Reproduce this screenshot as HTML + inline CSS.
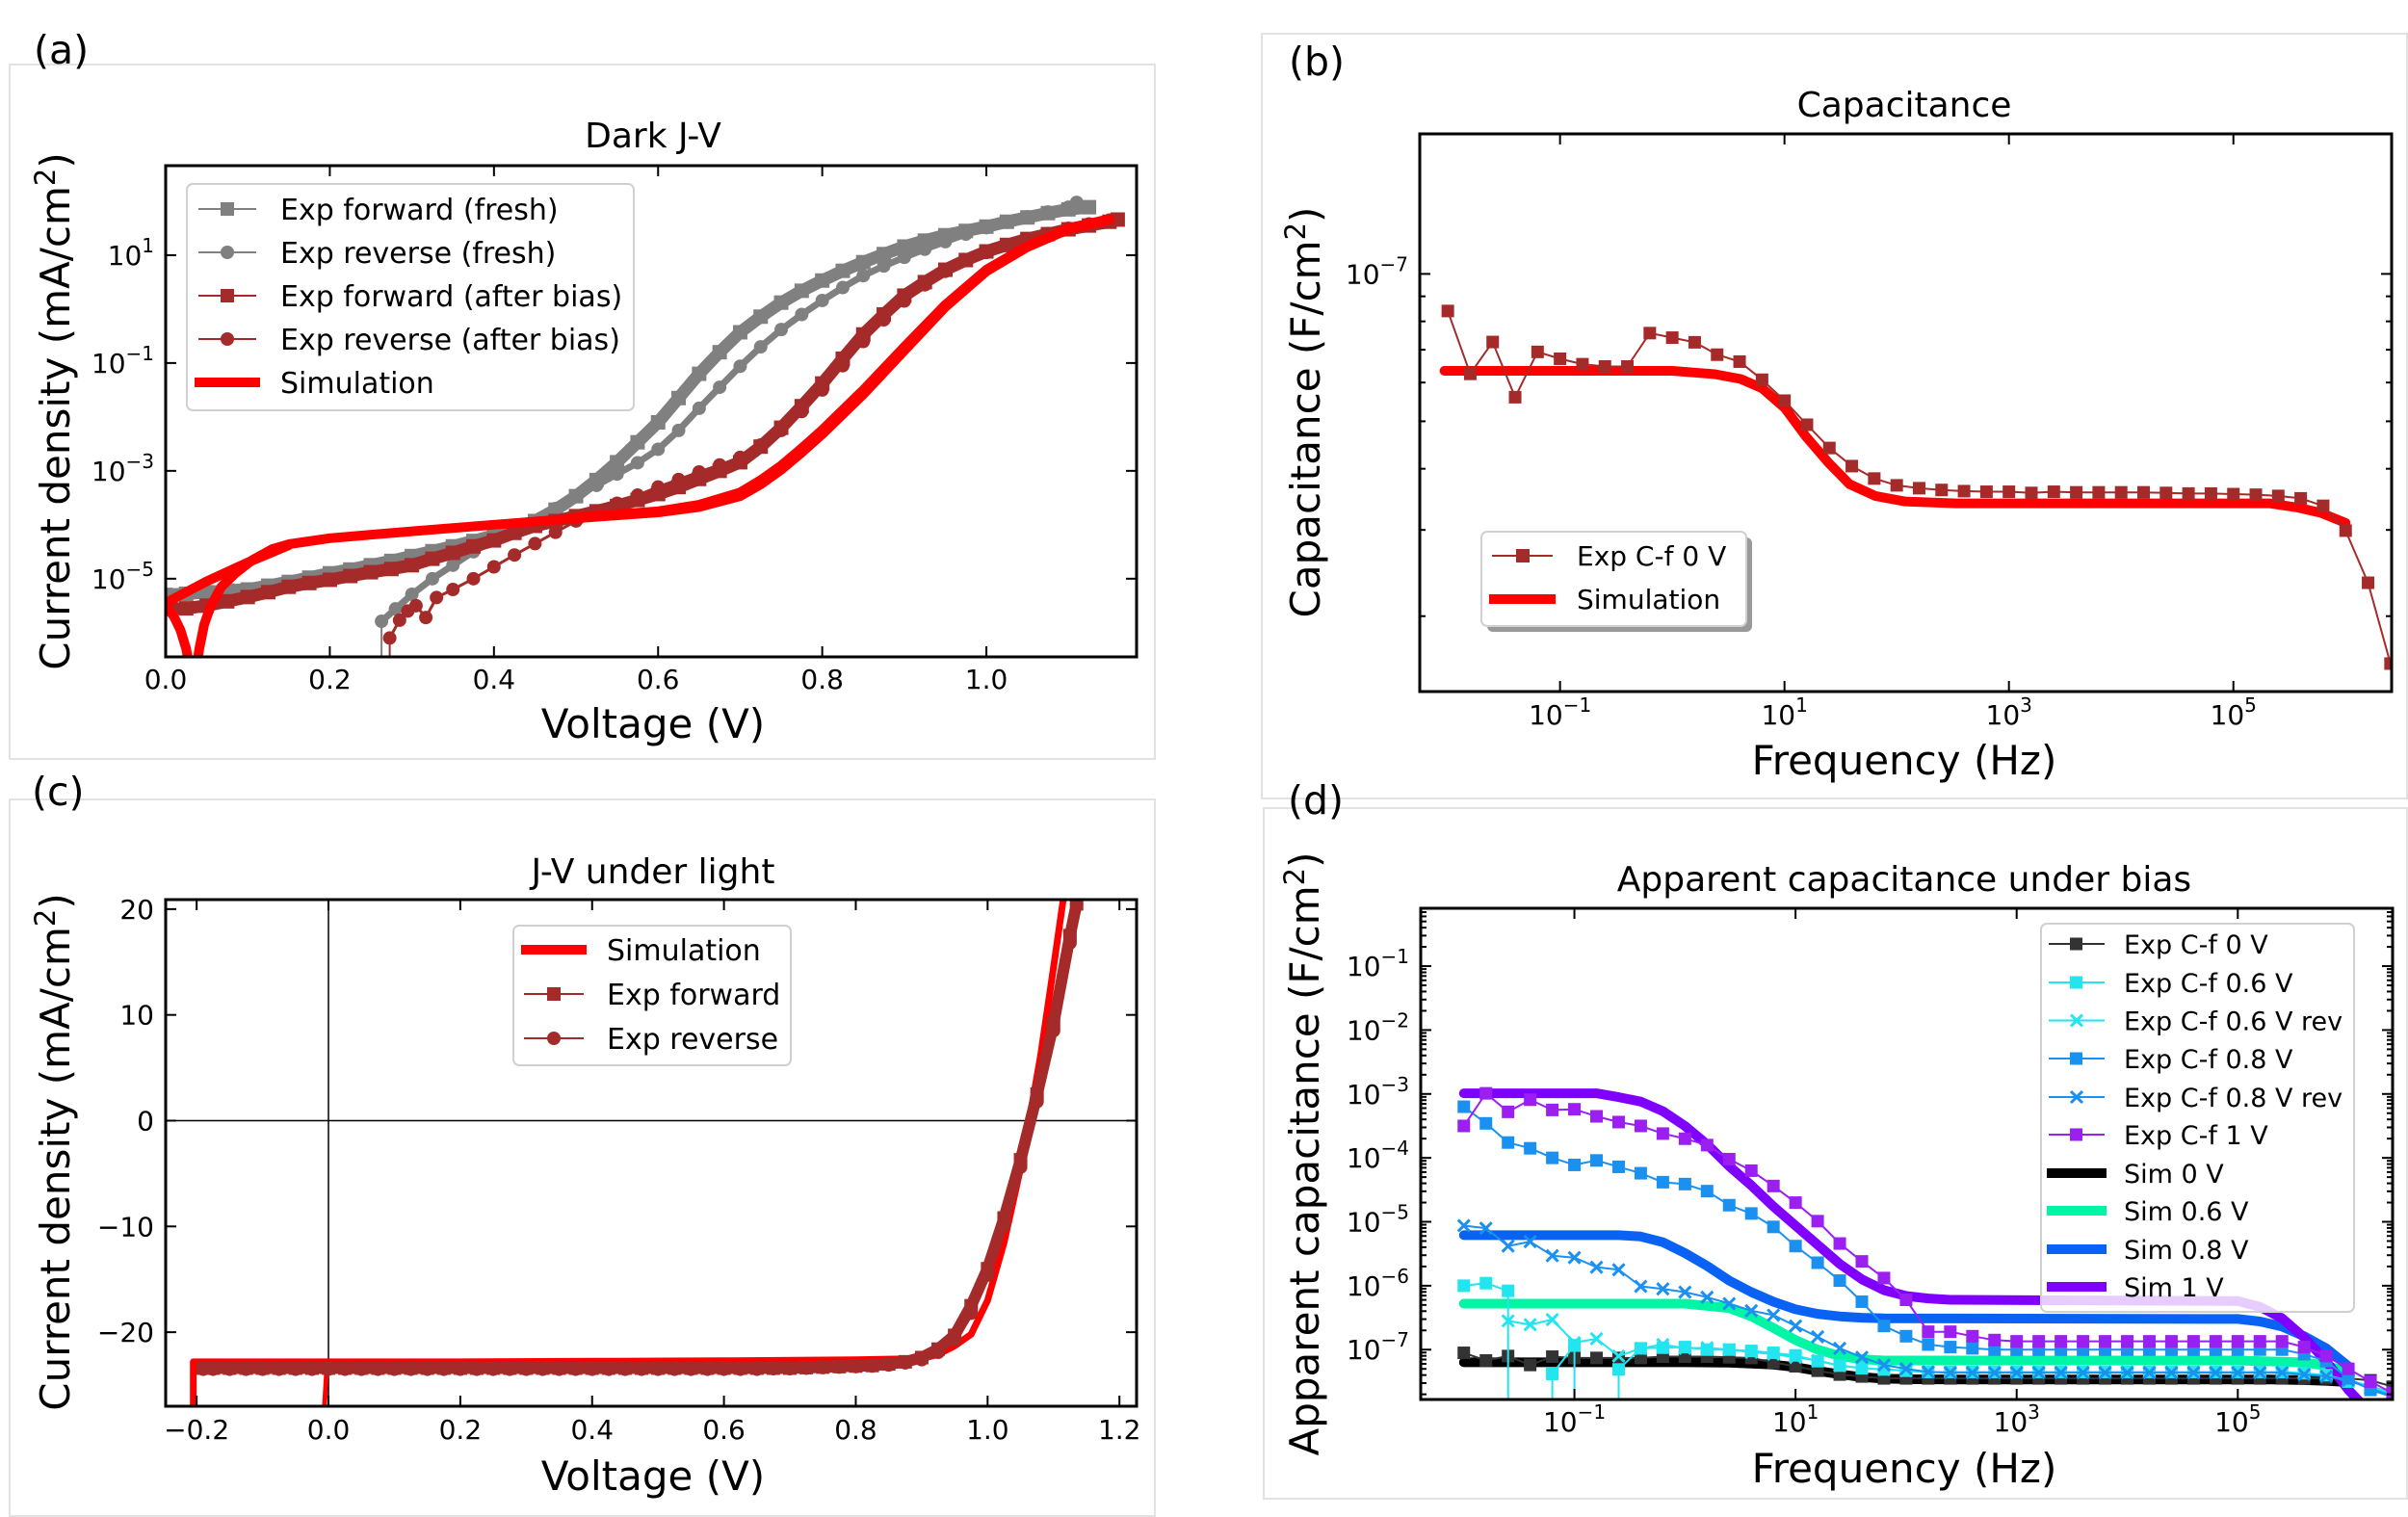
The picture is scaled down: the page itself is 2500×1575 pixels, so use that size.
<!DOCTYPE html>
<html><head><meta charset="utf-8"><title>J-V and C-f figure</title>
<style>
html,body{margin:0;padding:0;background:#fff;}
svg{display:block;font-family:"DejaVu Sans","Liberation Sans",sans-serif;}
</style></head>
<body>
<svg id="fig" xmlns="http://www.w3.org/2000/svg" width="2500" height="1575" viewBox="0 0 2500 1575">
<rect x="0" y="0" width="2500" height="1575" fill="#fff"/>
<g fill="none" stroke="#e2e2e2" stroke-width="2">
<rect x="10" y="67" width="1189" height="721"/>
<rect x="1310" y="35" width="1189" height="794"/>
<rect x="10" y="830" width="1189" height="744"/>
<rect x="1312" y="839" width="1187" height="717"/>
</g>
<g font-size="41" fill="#000">
<text x="35" y="66">(a)</text>
<text x="1338" y="78">(b)</text>
<text x="33" y="836">(c)</text>
<text x="1337" y="845">(d)</text>
</g>
<g font-size="36" text-anchor="middle">
<text x="678" y="153">Dark J-V</text>
<text x="1977" y="121">Capacitance</text>
<text x="678" y="917">J-V under light</text>
<text x="1977" y="925">Apparent capacitance under bias</text>
</g>
<g font-size="42" text-anchor="middle">
<text x="678" y="766">Voltage (V)</text>
<text x="1977" y="804">Frequency (Hz)</text>
<text x="678" y="1547">Voltage (V)</text>
<text x="1977" y="1539">Frequency (Hz)</text>
<text transform="translate(72,427) rotate(-90)">Current density (mA/cm<tspan dy="-15" font-size="29">2</tspan><tspan dy="15">)</tspan></text>
<text transform="translate(1370,428) rotate(-90)">Capacitance (F/cm<tspan dy="-15" font-size="29">2</tspan><tspan dy="15">)</tspan></text>
<text transform="translate(72,1196) rotate(-90)">Current density (mA/cm<tspan dy="-15" font-size="29">2</tspan><tspan dy="15">)</tspan></text>
<text transform="translate(1369,1198) rotate(-90)">Apparent capacitance (F/cm<tspan dy="-15" font-size="29">2</tspan><tspan dy="15">)</tspan></text>
</g>
<g id="plots"></g>
<g id="legends" font-size="30">
<g>
<rect x="194" y="191" width="464" height="235" rx="6" fill="#fff" fill-opacity="0.85" stroke="#d0d0d0" stroke-width="2"/>
<line x1="206" y1="217" x2="266" y2="217" stroke="#808080" stroke-width="2"/>
<rect x="229" y="210" width="14" height="14" fill="#808080"/>
<text x="291" y="228">Exp forward (fresh)</text>
<line x1="206" y1="262" x2="266" y2="262" stroke="#808080" stroke-width="2"/>
<circle cx="236" cy="262" r="7" fill="#808080"/>
<text x="291" y="273">Exp reverse (fresh)</text>
<line x1="206" y1="307" x2="266" y2="307" stroke="#a52a2a" stroke-width="2"/>
<rect x="229" y="300" width="14" height="14" fill="#a52a2a"/>
<text x="291" y="318">Exp forward (after bias)</text>
<line x1="206" y1="352" x2="266" y2="352" stroke="#a52a2a" stroke-width="2"/>
<circle cx="236" cy="352" r="7" fill="#a52a2a"/>
<text x="291" y="363">Exp reverse (after bias)</text>
<line x1="202" y1="397" x2="270" y2="397" stroke="#ff0000" stroke-width="10"/>
<text x="291" y="408">Simulation</text>
</g>
<g font-size="28">
<rect x="1544" y="558" width="275" height="98" rx="6" fill="#999"/>
<rect x="1538" y="552" width="275" height="98" rx="6" fill="#fff" stroke="#d0d0d0" stroke-width="2"/>
<line x1="1549" y1="577" x2="1612" y2="577" stroke="#a52a2a" stroke-width="2"/>
<rect x="1574" y="570" width="14" height="14" fill="#a52a2a"/>
<text x="1637" y="587">Exp C-f 0 V</text>
<line x1="1546" y1="622" x2="1615" y2="622" stroke="#ff0000" stroke-width="10"/>
<text x="1637" y="632">Simulation</text>
</g>
<g>
<rect x="533" y="961" width="288" height="145" rx="6" fill="#fff" fill-opacity="0.85" stroke="#d0d0d0" stroke-width="2"/>
<line x1="541" y1="986" x2="609" y2="986" stroke="#ff0000" stroke-width="10"/>
<text x="630" y="997">Simulation</text>
<line x1="544" y1="1032" x2="606" y2="1032" stroke="#a52a2a" stroke-width="2"/>
<rect x="568" y="1025" width="14" height="14" fill="#a52a2a"/>
<text x="630" y="1043">Exp forward</text>
<line x1="544" y1="1078" x2="606" y2="1078" stroke="#a52a2a" stroke-width="2"/>
<circle cx="575" cy="1078" r="7" fill="#a52a2a"/>
<text x="630" y="1089">Exp reverse</text>
</g>
</g>
<g id="legend-d-holder" font-size="27"></g>
</svg>
<script>
// ---------------- DATA: panel (a) dark J-V (log10 of |J| in mA/cm2) ----------------
const aFwdFreshV = [0,0.025,0.05,0.075,0.1,0.125,0.15,0.175,0.2,0.225,0.25,0.275,0.3,0.325,0.35,0.375,0.4,0.425,0.45,0.475,0.5,0.525,0.55,0.575,0.6,0.625,0.65,0.675,0.7,0.725,0.75,0.775,0.8,0.825,0.85,0.875,0.9,0.925,0.95,0.975,1.0,1.025,1.05,1.075,1.1,1.125];
const aFwdFreshLogJ = [-5.3,-5.28,-5.25,-5.22,-5.2,-5.13,-5.06,-4.98,-4.9,-4.83,-4.75,-4.67,-4.58,-4.49,-4.4,-4.3,-4.2,-4.08,-3.93,-3.72,-3.47,-3.17,-2.84,-2.47,-2.1,-1.65,-1.2,-0.8,-0.43,-0.14,0.12,0.34,0.53,0.71,0.87,1.02,1.16,1.27,1.37,1.45,1.53,1.62,1.7,1.78,1.85,1.89];
const aRevFreshV = [0.263,0.28,0.3,0.325,0.35,0.375,0.4,0.425,0.45,0.475,0.5,0.525,0.55,0.575,0.6,0.625,0.65,0.675,0.7,0.725,0.75,0.775,0.8,0.825,0.85,0.875,0.9,0.925,0.95,0.975,1.0,1.025,1.05,1.075,1.1,1.11];
const aRevFreshLogJ = [-5.79,-5.56,-5.29,-5.0,-4.75,-4.5,-4.29,-4.1,-3.93,-3.7,-3.47,-3.27,-3.06,-2.85,-2.6,-2.25,-1.84,-1.45,-1.06,-0.7,-0.38,-0.1,0.16,0.4,0.62,0.8,0.96,1.11,1.25,1.39,1.51,1.61,1.71,1.8,1.89,1.98];
const aFwdBiasV = [0,0.025,0.05,0.075,0.1,0.125,0.15,0.175,0.2,0.225,0.25,0.275,0.3,0.325,0.35,0.375,0.4,0.425,0.45,0.475,0.5,0.525,0.55,0.575,0.6,0.625,0.65,0.675,0.7,0.725,0.75,0.775,0.8,0.825,0.85,0.875,0.9,0.925,0.95,0.975,1.0,1.025,1.05,1.075,1.1,1.125,1.15,1.16];
const aFwdBiasLogJ = [-5.56,-5.55,-5.5,-5.42,-5.34,-5.25,-5.15,-5.08,-5.02,-4.95,-4.88,-4.82,-4.75,-4.63,-4.52,-4.4,-4.29,-4.15,-4.02,-3.93,-3.84,-3.75,-3.65,-3.54,-3.43,-3.3,-3.15,-3.0,-2.84,-2.55,-2.2,-1.8,-1.38,-0.92,-0.47,-0.1,0.25,0.5,0.73,0.91,1.07,1.19,1.3,1.39,1.48,1.55,1.62,1.66];
const aRevBiasV = [0.273,0.285,0.295,0.305,0.317,0.33,0.35,0.375,0.4,0.425,0.45,0.475,0.5,0.525,0.55,0.575,0.6,0.625,0.65,0.675,0.7,0.725,0.75,0.775,0.8,0.825,0.85,0.875,0.9,0.925,0.95,0.975,1.0,1.025,1.05,1.075,1.1,1.125,1.15];
const aRevBiasLogJ = [-6.1,-5.77,-5.6,-5.5,-5.72,-5.35,-5.2,-5.0,-4.78,-4.56,-4.35,-4.14,-3.93,-3.76,-3.6,-3.45,-3.3,-3.16,-3.02,-2.89,-2.75,-2.52,-2.25,-1.9,-1.5,-1.05,-0.6,-0.2,0.15,0.45,0.7,0.9,1.05,1.18,1.3,1.4,1.5,1.58,1.65];
const aSimUpV = [0,0.05,0.1,0.15];
const aSimUpLogJ = [-5.45,-5.05,-4.7,-4.38];
const aSimDipV = [0,0.01,0.018,0.025,0.031,0.036,0.041,0.047,0.055,0.068,0.085,0.105,0.13];
const aSimDipLogJ = [-5.5,-5.7,-5.95,-6.3,-6.8,-6.8,-6.3,-5.85,-5.5,-5.15,-4.9,-4.66,-4.45];
const aSimMainV = [0.13,0.15,0.2,0.3,0.4,0.5,0.6,0.65,0.7,0.725,0.75,0.775,0.8,0.85,0.9,0.95,1.0,1.05,1.1,1.15];
const aSimMainLogJ = [-4.45,-4.36,-4.25,-4.12,-4.0,-3.88,-3.77,-3.67,-3.47,-3.25,-2.98,-2.66,-2.32,-1.58,-0.77,0.04,0.7,1.15,1.48,1.66];
const aSimRetV = [0.5,0.6,0.65,0.7,0.725,0.75,0.775,0.8,0.85,0.9,0.95,1.0,1.05,1.1,1.15];
const aSimRetLogJ = [-3.86,-3.75,-3.63,-3.4,-3.17,-2.9,-2.58,-2.24,-1.5,-0.7,0.08,0.73,1.17,1.5,1.67];
const aXTicks = [0,0.2,0.4,0.6,0.8,1.0];
const aXTickLabels = ["0.0","0.2","0.4","0.6","0.8","1.0"];
const aYTickExps = [1,-1,-3,-5];

// ---------------- DATA: panel (b) capacitance (log10 freq, C in F/cm2) ----------------
const bFreqLog = [-2.0,-1.8,-1.6,-1.4,-1.2,-1.0,-0.8,-0.6,-0.4,-0.2,0,0.2,0.4,0.6,0.8,1.0,1.2,1.4,1.6,1.8,2.0,2.2,2.4,2.6,2.8,3.0,3.2,3.4,3.6,3.8,4.0,4.2,4.4,4.6,4.8,5.0,5.2,5.4,5.6,5.8,6.0,6.2,6.4];
const bCapExp = [8.4e-8,6.25e-8,7.26e-8,5.6e-8,6.93e-8,6.71e-8,6.54e-8,6.47e-8,6.47e-8,7.57e-8,7.41e-8,7.25e-8,6.84e-8,6.62e-8,6.08e-8,5.51e-8,4.92e-8,4.41e-8,4.05e-8,3.82e-8,3.70e-8,3.65e-8,3.62e-8,3.60e-8,3.59e-8,3.59e-8,3.57e-8,3.59e-8,3.58e-8,3.58e-8,3.58e-8,3.58e-8,3.57e-8,3.56e-8,3.56e-8,3.55e-8,3.54e-8,3.52e-8,3.48e-8,3.36e-8,2.99e-8,2.34e-8,1.6e-8];
const bSimFreqLog = [-2.03,0,0.38,0.61,0.8,1.0,1.19,1.39,1.58,1.81,2.07,2.53,5.32,5.58,5.78,6.0];
const bSimCap = [6.34e-8,6.34e-8,6.24e-8,6.1e-8,5.84e-8,5.33e-8,4.66e-8,4.12e-8,3.72e-8,3.52e-8,3.43e-8,3.40e-8,3.40e-8,3.33e-8,3.25e-8,3.10e-8];
const bXTickExps = [-1,1,3,5];
const bYTickExps = [-7];
const bYMinor = [2e-8,3e-8,4e-8,5e-8,6e-8,7e-8,8e-8,9e-8];

// ---------------- DATA: panel (c) J-V under light ----------------
const cV = [-0.19,-0.175,-0.15,-0.125,-0.1,-0.075,-0.05,-0.025,0,0.025,0.05,0.075,0.1,0.125,0.15,0.175,0.2,0.225,0.25,0.275,0.3,0.325,0.35,0.375,0.4,0.425,0.45,0.475,0.5,0.525,0.55,0.575,0.6,0.625,0.65,0.675,0.7,0.725,0.75,0.775,0.8,0.825,0.85,0.875,0.9,0.925,0.95,0.975,1.0,1.025,1.05,1.075,1.1,1.125,1.135];
const cFwdJ = [-23.4,-23.4,-23.4,-23.4,-23.4,-23.4,-23.4,-23.4,-23.4,-23.4,-23.4,-23.4,-23.4,-23.4,-23.4,-23.4,-23.4,-23.4,-23.4,-23.4,-23.4,-23.4,-23.4,-23.4,-23.4,-23.4,-23.4,-23.4,-23.4,-23.4,-23.4,-23.4,-23.4,-23.4,-23.4,-23.4,-23.4,-23.35,-23.3,-23.25,-23.2,-23.15,-23.0,-22.8,-22.4,-21.6,-20.3,-17.5,-14.0,-9.2,-3.7,2.5,9.2,17.5,20.5];
const cRevJ = [-23.5,-23.5,-23.5,-23.5,-23.5,-23.5,-23.5,-23.5,-23.5,-23.5,-23.5,-23.5,-23.5,-23.5,-23.5,-23.5,-23.5,-23.5,-23.5,-23.5,-23.5,-23.5,-23.5,-23.5,-23.5,-23.5,-23.5,-23.5,-23.5,-23.5,-23.5,-23.5,-23.5,-23.5,-23.5,-23.45,-23.45,-23.4,-23.35,-23.3,-23.25,-23.2,-23.1,-22.9,-22.6,-21.9,-20.7,-18.2,-14.6,-9.9,-4.4,1.8,8.5,16.8,20.5];
const cSimV = [-0.205,-0.205,0.0,0.2,0.4,0.6,0.8,0.85,0.9,0.925,0.95,0.975,1.0,1.025,1.05,1.063,1.08,1.1,1.115];
const cSimJ = [-28,-22.8,-22.8,-22.8,-22.75,-22.7,-22.6,-22.55,-22.5,-22.1,-21.3,-20.2,-17.0,-11.5,-4.5,0,6,14.5,21];
const cSimReturnV = [-0.007,-0.002];
const cSimReturnJ = [-28,-22.8];
const cXTicks = [-0.2,0,0.2,0.4,0.6,0.8,1.0,1.2];
const cXTickLabels = ["\u22120.2","0.0","0.2","0.4","0.6","0.8","1.0","1.2"];
const cYTicks = [-20,-10,0,10,20];
const cYTickLabels = ["\u221220","\u221210","0","10","20"];

// ---------------- DATA: panel (d) apparent capacitance (log10 f, log10 C); null = non-positive ----------------
const dFreqLog = [-2.0,-1.8,-1.6,-1.4,-1.2,-1.0,-0.8,-0.6,-0.4,-0.2,0,0.2,0.4,0.6,0.8,1.0,1.2,1.4,1.6,1.8,2.0,2.2,2.4,2.6,2.8,3.0,3.2,3.4,3.6,3.8,4.0,4.2,4.4,4.6,4.8,5.0,5.2,5.4,5.6,5.8,6.0,6.2,6.4];
const dExp0 = [-7.05,-7.17,-7.10,-7.24,-7.11,-7.13,-7.13,-7.13,-7.13,-7.11,-7.11,-7.11,-7.12,-7.13,-7.20,-7.26,-7.33,-7.39,-7.42,-7.45,-7.45,-7.45,-7.45,-7.45,-7.45,-7.45,-7.45,-7.45,-7.45,-7.45,-7.45,-7.45,-7.45,-7.45,-7.45,-7.45,-7.45,-7.45,-7.45,-7.45,-7.45,-7.48,-7.58];
const dExp06 = [-6.0,-5.96,-6.08,null,-7.38,-6.93,null,-7.31,-6.98,-6.97,-6.96,-7.0,-7.0,-7.02,-7.05,-7.09,-7.18,-7.25,-7.29,-7.31,-7.33,-7.35,-7.35,-7.35,-7.35,-7.35,-7.35,-7.35,-7.35,-7.35,-7.35,-7.35,-7.35,-7.35,-7.35,-7.35,-7.35,-7.35,-7.37,-7.40,-7.50,-7.58,-7.69];
const dExp06Rev = [NaN,NaN,-6.55,-6.61,-6.53,-6.89,-6.83,-7.1,-6.98,-6.92,-6.98,-6.97,-7.0,-7.04,-7.07,-7.12,-7.17,-7.25,-7.29,-7.31,-7.33,-7.35,-7.35,-7.35,-7.35,-7.35,-7.35,-7.35,-7.35,-7.35,-7.35,-7.35,-7.35,-7.35,-7.35,-7.35,-7.35,-7.35,-7.37,-7.40,-7.48,-7.57,-7.68];
const dExp08 = [-3.2,-3.46,-3.76,-3.85,-4.0,-4.11,-4.04,-4.14,-4.24,-4.38,-4.41,-4.52,-4.74,-4.87,-5.08,-5.38,-5.64,-5.92,-6.25,-6.63,-6.79,-6.92,-6.96,-6.98,-7.0,-7.0,-7.0,-7.0,-7.0,-7.0,-7.0,-7.0,-7.0,-7.0,-7.0,-7.0,-7.0,-7.0,-7.07,-7.18,-7.45,-7.63,-7.74];
const dExp08Rev = [-5.06,-5.10,-5.38,-5.31,-5.53,-5.56,-5.71,-5.75,-6.01,-6.05,-6.10,-6.18,-6.28,-6.39,-6.46,-6.63,-6.80,-6.98,-7.12,-7.24,-7.30,-7.35,-7.36,-7.36,-7.36,-7.36,-7.36,-7.36,-7.36,-7.36,-7.36,-7.36,-7.36,-7.36,-7.36,-7.36,-7.36,-7.36,-7.39,-7.42,-7.48,-7.61,-7.72];
const dExp1 = [-3.5,-2.99,-3.28,-3.09,-3.25,-3.24,-3.35,-3.44,-3.5,-3.62,-3.7,-3.8,-4.02,-4.2,-4.44,-4.7,-4.99,-5.34,-5.62,-5.88,-6.22,-6.72,-6.72,-6.79,-6.85,-6.87,-6.87,-6.87,-6.87,-6.87,-6.87,-6.87,-6.87,-6.87,-6.87,-6.87,-6.87,-6.87,-6.96,-7.10,-7.30,-7.50,-7.68];
const dSim0F = [-2.0,0,0.4,0.8,1.0,1.2,1.4,1.6,1.8,2.1,2.5,5.3,5.6,5.8,6.0];
const dSim0C = [-7.198,-7.198,-7.205,-7.234,-7.273,-7.332,-7.385,-7.43,-7.454,-7.464,-7.468,-7.468,-7.477,-7.488,-7.509];
const dSim06F = [-2.0,0,0.4,0.6,0.8,1.0,1.2,1.4,1.6,1.8,5.0,5.6,5.8,6.0];
const dSim06C = [-6.28,-6.28,-6.35,-6.48,-6.66,-6.85,-7.0,-7.1,-7.15,-7.17,-7.17,-7.2,-7.25,-7.35];
const dSim08F = [-2.0,-0.6,-0.4,-0.2,0,0.2,0.4,0.6,0.8,1.0,1.2,1.4,1.6,1.8,5.0,5.2,5.4,5.6,5.8,6.0];
const dSim08C = [-5.21,-5.21,-5.23,-5.32,-5.49,-5.69,-5.92,-6.10,-6.25,-6.37,-6.44,-6.48,-6.50,-6.51,-6.52,-6.56,-6.64,-6.79,-6.98,-7.26];
const dSim1F = [-2.0,-0.8,-0.6,-0.4,-0.2,0,0.2,0.4,0.6,0.8,1.0,1.2,1.4,1.6,1.8,2.0,2.2,2.4,5.0,5.2,5.4,5.6,5.8,6.0,6.15];
const dSim1C = [-2.99,-2.99,-3.05,-3.12,-3.27,-3.5,-3.79,-4.13,-4.43,-4.76,-5.06,-5.36,-5.66,-5.90,-6.07,-6.16,-6.20,-6.22,-6.24,-6.33,-6.51,-6.81,-7.18,-7.63,-7.9];
const dXTickExps = [-1,1,3,5];
const dYTickExps = [-7,-6,-5,-4,-3,-2,-1];
const dLegendLabels = ["Exp C-f 0 V","Exp C-f 0.6 V","Exp C-f 0.6 V rev","Exp C-f 0.8 V","Exp C-f 0.8 V rev","Exp C-f 1 V","Sim 0 V","Sim 0.6 V","Sim 0.8 V","Sim 1 V"];

// ---------------- drawing ----------------
const NS = 'http://www.w3.org/2000/svg';
const root = document.getElementById('plots');
function mk(tag, attrs, parent, name) {
  const e = document.createElementNS(NS, tag);
  for (const k in attrs) e.setAttribute(k, attrs[k]);
  
  
  parent.appendChild(e);
  return e;
}
function lin(d0, d1, p0, p1) { return v => p0 + (v - d0) * (p1 - p0) / (d1 - d0); }
function makeAxes(id, L, R, T, B, xd, yd) {
  const ax = {L, R, T, B, x: lin(xd[0], xd[1], L, R), y: lin(yd[0], yd[1], B, T)};
  const defs = mk('defs', {}, root, id + '-defs');
  const cp = mk('clipPath', {id: id + '-clip'}, defs, id + '-clip');
  mk('rect', {x: L, y: T, width: R - L, height: B - T}, cp, id + '-clip-rect');
  ax.g = mk('g', {'clip-path': 'url(#' + id + '-clip)'}, root, id + '-plot-area');
  ax.id = id;
  return ax;
}
function frame(ax) {
  mk('rect', {x: ax.L, y: ax.T, width: ax.R - ax.L, height: ax.B - ax.T, fill: 'none', stroke: '#000', 'stroke-width': 3}, root, ax.id + '-axes-frame');
}
function xTick(ax, px, len) {
  mk('line', {x1: px, y1: ax.B, x2: px, y2: ax.B - len, stroke: '#000', 'stroke-width': 2}, root, ax.id + '-x-tick');
  mk('line', {x1: px, y1: ax.T, x2: px, y2: ax.T + len, stroke: '#000', 'stroke-width': 2}, root, ax.id + '-x-tick-top');
}
function yTick(ax, py, len) {
  mk('line', {x1: ax.L, y1: py, x2: ax.L + len, y2: py, stroke: '#000', 'stroke-width': 2}, root, ax.id + '-y-tick');
  mk('line', {x1: ax.R, y1: py, x2: ax.R - len, y2: py, stroke: '#000', 'stroke-width': 2}, root, ax.id + '-y-tick-right');
}
function plainLabel(x, y, s, anchor, name) {
  const t = mk('text', {x: x, y: y, 'font-size': 28, 'text-anchor': anchor}, root, name);
  t.textContent = s;
}
function expLabel(x, y, e, anchor, name) {
  const t = mk('text', {x: x, y: y, 'font-size': 28, 'text-anchor': anchor}, root, name);
  const a = document.createElementNS(NS, 'tspan'); a.textContent = '10'; t.appendChild(a);
  const b = document.createElementNS(NS, 'tspan');
  b.setAttribute('dy', '-13'); b.setAttribute('font-size', '20');
  b.textContent = (e < 0 ? '\u2212' : '') + Math.abs(e);
  t.appendChild(b);
}
function pathD(ax, xs, ys, tr) {
  let d = '', pen = false, prev = null;
  for (let i = 0; i < xs.length; i++) {
    const v = ys[i];
    if (v === null) {
      if (prev) d += 'L' + prev[0].toFixed(1) + ' ' + (ax.B + 20);
      pen = false; prev = null;
      continue;
    }
    if (Number.isNaN(v)) { pen = false; prev = null; continue; }
    const px = ax.x(xs[i]), py = ax.y(tr ? tr(v) : v);
    if (!pen && i > 0 && ys[i - 1] === null) d += 'M' + px.toFixed(1) + ' ' + (ax.B + 20) + 'L';
    else d += pen ? 'L' : 'M';
    d += px.toFixed(1) + ' ' + py.toFixed(1);
    pen = true; prev = [px, py];
  }
  return d;
}
function line(ax, xs, ys, color, w, name, tr, extra) {
  const a = {d: pathD(ax, xs, ys, tr), fill: 'none', stroke: color, 'stroke-width': w, 'stroke-linejoin': 'round', 'stroke-linecap': 'round'};
  if (extra) for (const k in extra) a[k] = extra[k];
  return mk('path', a, ax.g, name);
}
function markers(ax, xs, ys, color, shape, size, name, tr) {
  const g = mk('g', {}, ax.g, name + '-markers');
  for (let i = 0; i < xs.length; i++) {
    const v = ys[i];
    if (v === null || Number.isNaN(v)) continue;
    const px = ax.x(xs[i]), py = ax.y(tr ? tr(v) : v);
    if (shape === 's') mk('rect', {x: px - size / 2, y: py - size / 2, width: size, height: size, fill: color}, g, name + '-point');
    else if (shape === 'o') mk('circle', {cx: px, cy: py, r: size / 2, fill: color}, g, name + '-point');
    else { const h = size / 2;
      mk('path', {d: 'M' + (px - h) + ' ' + (py - h) + 'L' + (px + h) + ' ' + (py + h) + 'M' + (px - h) + ' ' + (py + h) + 'L' + (px + h) + ' ' + (py - h), stroke: color, 'stroke-width': 3, fill: 'none'}, g, name + '-point'); }
  }
}

// ---- panel (a)
const axA = makeAxes('panel-a', 172, 1180, 172, 682, [0, 1.183], [-6.45, 2.66]);
function dropLine(ax, xs, ys, color, name) {
  const px = ax.x(xs[0]);
  mk('line', {x1: px, y1: ax.y(ys[0]), x2: px, y2: ax.B, stroke: color, 'stroke-width': 2}, ax.g, name);
}
line(axA, aFwdFreshV, aFwdFreshLogJ, '#808080', 13, 'series-fwd-fresh-band', null, {'stroke-linecap': 'butt'});
markers(axA, aFwdFreshV, aFwdFreshLogJ, '#808080', 's', 15, 'series-fwd-fresh');
dropLine(axA, aRevFreshV, aRevFreshLogJ, '#808080', 'series-rev-fresh-drop');
line(axA, aRevFreshV, aRevFreshLogJ, '#808080', 7, 'series-rev-fresh-line');
markers(axA, aRevFreshV, aRevFreshLogJ, '#808080', 'o', 14, 'series-rev-fresh');
line(axA, aFwdBiasV, aFwdBiasLogJ, '#a52a2a', 13, 'series-fwd-bias-band', null, {'stroke-linecap': 'butt'});
markers(axA, aFwdBiasV, aFwdBiasLogJ, '#a52a2a', 's', 15, 'series-fwd-bias');
dropLine(axA, aRevBiasV, aRevBiasLogJ, '#a52a2a', 'series-rev-bias-drop');
line(axA, aRevBiasV, aRevBiasLogJ, '#a52a2a', 3, 'series-rev-bias-line');
markers(axA, aRevBiasV, aRevBiasLogJ, '#a52a2a', 'o', 14, 'series-rev-bias');
line(axA, aSimUpV, aSimUpLogJ, '#ff0000', 10, 'series-sim-a-up');
line(axA, aSimDipV, aSimDipLogJ, '#ff0000', 10, 'series-sim-a-dip');
line(axA, aSimMainV, aSimMainLogJ, '#ff0000', 10, 'series-sim-a-main');
line(axA, aSimRetV, aSimRetLogJ, '#ff0000', 10, 'series-sim-a-return');
frame(axA);
aXTicks.forEach((v, i) => { const px = axA.x(v); xTick(axA, px, 11); plainLabel(px, axA.B + 33, aXTickLabels[i], 'middle', 'x-tick-label-a'); });
aYTickExps.forEach(e => { const py = axA.y(e); yTick(axA, py, 11); expLabel(axA.L - 12, py + 10, e, 'end', 'y-tick-label-a'); });

// ---- panel (b)
const axB = makeAxes('panel-b', 1474, 2483, 139, 718, [-2.25, 6.41], [-7.853, -6.714]);
const lg = v => Math.log10(v);
line(axB, bSimFreqLog, bSimCap, '#ff0000', 10, 'series-sim-b', lg);
line(axB, bFreqLog, bCapExp, '#a52a2a', 2, 'series-exp-b-line', lg);
markers(axB, bFreqLog, bCapExp, '#a52a2a', 's', 13, 'series-exp-b', lg);
frame(axB);
bXTickExps.forEach(e => { const px = axB.x(e); xTick(axB, px, 11); expLabel(px, axB.B + 34, e, 'middle', 'x-tick-label-b'); });
bYTickExps.forEach(e => { const py = axB.y(e); yTick(axB, py, 11); expLabel(axB.L - 12, py + 10, e, 'end', 'y-tick-label-b'); });
bYMinor.forEach(v => yTick(axB, axB.y(Math.log10(v)), 6));

// ---- panel (c)
const axC = makeAxes('panel-c', 172, 1180, 934, 1460, [-0.247, 1.226], [-27.0, 20.9]);
mk('line', {x1: axC.L, y1: axC.y(0), x2: axC.R, y2: axC.y(0), stroke: '#000', 'stroke-width': 1.5}, axC.g, 'zero-line-horizontal');
mk('line', {x1: axC.x(0), y1: axC.T, x2: axC.x(0), y2: axC.B, stroke: '#000', 'stroke-width': 1.5}, axC.g, 'zero-line-vertical');
line(axC, cSimV, cSimJ, '#ff0000', 7, 'series-sim-c');
line(axC, cSimReturnV, cSimReturnJ, '#ff0000', 5, 'series-sim-c-return');
line(axC, cV, cFwdJ, '#a52a2a', 12, 'series-fwd-c-band', null, {'stroke-linecap': 'butt'});
markers(axC, cV, cFwdJ, '#a52a2a', 's', 14, 'series-fwd-c');
line(axC, cV, cRevJ, '#a52a2a', 6, 'series-rev-c-line');
markers(axC, cV, cRevJ, '#a52a2a', 'o', 14, 'series-rev-c');
frame(axC);
cXTicks.forEach((v, i) => { const px = axC.x(v); xTick(axC, px, 11); plainLabel(px, axC.B + 34, cXTickLabels[i], 'middle', 'x-tick-label-c'); });
cYTicks.forEach((v, i) => { const py = axC.y(v); yTick(axC, py, 11); plainLabel(axC.L - 12, py + 10, cYTickLabels[i], 'end', 'y-tick-label-c'); });

// ---- panel (d)
const axD = makeAxes('panel-d', 1475, 2484, 943, 1453, [-2.39, 6.40], [-7.78, -0.095]);
const cols = {e0: '#333333', e06: '#22e5f0', e08: '#1a90f0', e1: '#9b1ff0', s0: '#000000', s06: '#00f5a5', s08: '#0a62f5', s1: '#8000ff'};
line(axD, dSim0F, dSim0C, cols.s0, 10, 'series-sim-0v');
line(axD, dSim06F, dSim06C, cols.s06, 10, 'series-sim-06v');
line(axD, dSim08F, dSim08C, cols.s08, 10, 'series-sim-08v');
line(axD, dSim1F, dSim1C, cols.s1, 10, 'series-sim-1v');
line(axD, dFreqLog, dExp0, cols.e0, 2, 'series-exp-0v-line');
markers(axD, dFreqLog, dExp0, cols.e0, 's', 13, 'series-exp-0v');
line(axD, dFreqLog, dExp06, cols.e06, 2, 'series-exp-06v-line');
markers(axD, dFreqLog, dExp06, cols.e06, 's', 13, 'series-exp-06v');
line(axD, dFreqLog, dExp06Rev, cols.e06, 2, 'series-exp-06v-rev-line');
markers(axD, dFreqLog, dExp06Rev, cols.e06, 'x', 12, 'series-exp-06v-rev');
line(axD, dFreqLog, dExp08, cols.e08, 2, 'series-exp-08v-line');
markers(axD, dFreqLog, dExp08, cols.e08, 's', 13, 'series-exp-08v');
line(axD, dFreqLog, dExp08Rev, cols.e08, 2, 'series-exp-08v-rev-line');
markers(axD, dFreqLog, dExp08Rev, cols.e08, 'x', 12, 'series-exp-08v-rev');
line(axD, dFreqLog, dExp1, cols.e1, 2, 'series-exp-1v-line');
markers(axD, dFreqLog, dExp1, cols.e1, 's', 13, 'series-exp-1v');
frame(axD);
dXTickExps.forEach(e => { const px = axD.x(e); xTick(axD, px, 11); expLabel(px, axD.B + 33, e, 'middle', 'x-tick-label-d'); });
dYTickExps.forEach(e => { const py = axD.y(e); yTick(axD, py, 11); expLabel(axD.L - 12, py + 10, e, 'end', 'y-tick-label-d'); });
for (let e = -8; e <= 0; e++) for (let k = 2; k <= 9; k++) {
  const lv = e + Math.log10(k);
  if (lv > -7.78 && lv < -0.095) yTick(axD, axD.y(lv), 6);
}
// legend d
const ldh = document.getElementById('legend-d-holder');
const ld = mk('g', {}, ldh, 'legend-d');
mk('rect', {x: 2119, y: 959, width: 325, height: 403, rx: 6, fill: '#fff', 'fill-opacity': 0.8, stroke: '#d0d0d0', 'stroke-width': 2}, ld, 'legend-d-box');
const dLegendRows = [980, 1020, 1059.5, 1099, 1139, 1178, 1218, 1257, 1297, 1336];
const dLegendStyle = [[cols.e0,'s'],[cols.e06,'s'],[cols.e06,'x'],[cols.e08,'s'],[cols.e08,'x'],[cols.e1,'s'],[cols.s0,'L'],[cols.s06,'L'],[cols.s08,'L'],[cols.s1,'L']];
dLegendLabels.forEach((lab, i) => {
  const y = dLegendRows[i], c = dLegendStyle[i][0], m = dLegendStyle[i][1];
  if (m === 'L') mk('line', {x1: 2125, y1: y, x2: 2187, y2: y, stroke: c, 'stroke-width': 10}, ld, 'legend-swatch-d');
  else {
    mk('line', {x1: 2127, y1: y, x2: 2185, y2: y, stroke: c, 'stroke-width': 2}, ld, 'legend-swatch-d');
    if (m === 's') mk('rect', {x: 2149, y: y - 6.5, width: 13, height: 13, fill: c}, ld, 'legend-marker-d');
    else mk('path', {d: 'M2150 ' + (y - 6) + 'L2162 ' + (y + 6) + 'M2150 ' + (y + 6) + 'L2162 ' + (y - 6), stroke: c, 'stroke-width': 3}, ld, 'legend-marker-d');
  }
  const t = mk('text', {x: 2205, y: y + 10}, ld, 'legend-entry-d');
  t.textContent = lab;
});
</script>
</body></html>
